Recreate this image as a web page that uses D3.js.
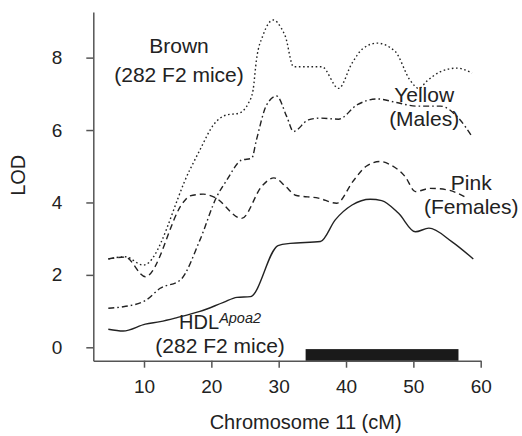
<!DOCTYPE html>
<html>
<head>
<meta charset="utf-8">
<script src="https://cdn.jsdelivr.net/npm/d3@7"></script>
<style>
  body { margin: 0; background: #fff; }
  text { font-family: "Liberation Sans", Arial, sans-serif; fill: #222; }
</style>
</head>
<body>
<div id="chart"></div>
<script>
let width = 522,
  height = 436;

// LOD profiles along chromosome 11, [cM, LOD]
const hdl = [
  [4.7, 0.5], [6.9, 0.45], [10.2, 0.64], [12.4, 0.71], [14.9, 0.82],
  [18.3, 0.99], [21.8, 1.24], [23.8, 1.38], [25.8, 1.4], [29.9, 2.81],
  [31.7, 2.87], [36.2, 2.92], [38.4, 3.52], [40.9, 3.93], [43.6, 4.09],
  [45.3, 4.05], [47.8, 3.7], [50.3, 3.19], [52.3, 3.29], [55.7, 2.92],
  [58.9, 2.44],
];
const brown = [
  [4.7, 2.44], [7.2, 2.5], [9.9, 2.27], [16.8, 4.9], [18.3, 5.45],
  [20.3, 6.14], [22.3, 6.42], [24.0, 6.46], [25.5, 6.74], [26.2, 7.11],
  [26.7, 7.94], [27.7, 8.63], [29.2, 9.04], [30.4, 8.81], [31.0, 8.58],
  [32.2, 7.75], [36.4, 7.75], [38.9, 7.15], [40.9, 7.85], [42.5, 8.25],
  [44.6, 8.4], [47.3, 8.17], [49.5, 7.38], [50.8, 7.15], [52.0, 7.35],
  [54.0, 7.61], [56.5, 7.71], [58.7, 7.57],
];
const yellow = [
  [4.7, 1.08], [6.9, 1.12], [10.2, 1.29], [12.4, 1.63], [15.4, 1.86],
  [18.3, 2.96], [20.8, 4.16], [22.3, 4.62], [24.5, 5.17], [26.0, 5.22],
  [26.7, 5.73], [28.2, 6.69], [29.7, 6.94], [31.2, 6.37], [32.2, 5.96],
  [34.4, 6.28], [36.2, 6.33], [38.9, 6.3], [41.6, 6.69], [44.6, 6.86],
  [47.5, 6.76], [50.5, 6.66], [54.0, 6.66], [56.7, 6.33], [58.7, 5.82],
];
const pink = [
  [4.7, 2.44], [7.2, 2.49], [10.2, 1.95], [15.9, 4.02], [16.8, 4.18],
  [18.8, 4.23], [20.5, 4.14], [24.5, 3.56], [27.5, 4.45], [29.3, 4.68],
  [31.0, 4.45], [32.5, 4.2], [35.9, 4.12], [38.6, 3.98], [41.1, 4.6],
  [43.0, 5.0], [45.1, 5.13], [46.6, 5.04], [48.8, 4.71], [50.3, 4.3],
  [52.5, 4.39], [55.0, 4.35], [58.0, 4.12],
];

// confidence interval bar (cM)
const interval = [34, 56.7];

const xTicks = [10, 20, 30, 40, 50, 60];
const yTicks = [0, 2, 4, 6, 8];

// label anchors [cM, LOD baseline]
const labels = [
  { text: "Brown", at: [15.2, 8.13] },
  { text: "(282 F2 mice)", at: [15.2, 7.34] },
  { text: "Yellow", at: [51.6, 6.78] },
  { text: "(Males)", at: [51.6, 6.12] },
  { text: "Pink", at: [58.6, 4.34] },
  { text: "(Females)", at: [58.6, 3.68] },
  { text: "(282 F2 mice)", at: [21.3, -0.17] },
];

const x = d3.scaleLinear().domain([2.47, 60]).range([93.3, 480.7]);
const y = d3.scaleLinear().domain([-0.37, 9.26]).range([360.7, 12]);

const svg = d3
  .select("#chart")
  .append("svg")
  .attr("width", width)
  .attr("height", height);

// axes
const yAxis = d3.axisLeft(y).tickValues(yTicks).tickSize(7).tickSizeOuter(0).tickPadding(24);
const xAxis = d3.axisBottom(x).tickValues(xTicks).tickSize(7).tickSizeOuter(0).tickPadding(12);

svg
  .append("g")
  .attr("transform", `translate(${x(2.47)},0)`)
  .call(yAxis)
  .call((g) => g.selectAll("line, path").attr("stroke", "#555").attr("stroke-width", 1.5))
  .call((g) => g.selectAll("text").attr("font-size", 19).attr("fill", "#222"));

svg
  .append("g")
  .attr("transform", `translate(0,${y(-0.37)})`)
  .call(xAxis)
  .call((g) => g.selectAll("line, path").attr("stroke", "#555").attr("stroke-width", 1.5))
  .call((g) => g.selectAll("text").attr("font-size", 19).attr("fill", "#222"));

// axis titles
svg
  .append("text")
  .attr("transform", `translate(25,${y(4.75)}) rotate(-90)`)
  .attr("text-anchor", "middle")
  .attr("font-size", 20)
  .text("LOD");

svg
  .append("text")
  .attr("x", x(34))
  .attr("y", 429)
  .attr("text-anchor", "middle")
  .attr("font-size", 20)
  .text("Chromosome 11 (cM)");

// interval bar
svg
  .append("rect")
  .attr("x", x(interval[0]))
  .attr("width", x(interval[1]) - x(interval[0]))
  .attr("y", y(-0.05))
  .attr("height", y(-0.37) - y(-0.05))
  .attr("fill", "#1a1a1a");

const line = d3
  .line()
  .x((d) => x(d[0]))
  .y((d) => y(d[1]))
  .curve(d3.curveMonotoneX);

const series = [
  { data: brown, dash: "1.6,2.6" },
  { data: yellow, dash: "6,3,1.6,3" },
  { data: pink, dash: "6,4" },
  { data: hdl, dash: null },
];

svg
  .selectAll(".lines")
  .data(series)
  .join("path")
  .attr("class", "lines")
  .attr("fill", "none")
  .attr("stroke", "#222")
  .attr("stroke-width", 1.4)
  .attr("stroke-dasharray", (d) => d.dash)
  .attr("d", (d) => line(d.data));

// annotations
svg
  .selectAll(".lab")
  .data(labels)
  .join("text")
  .attr("class", "lab")
  .attr("x", (d) => x(d.at[0]))
  .attr("y", (d) => y(d.at[1]))
  .attr("text-anchor", "middle")
  .attr("font-size", 21)
  .text((d) => d.text);

const hdlLab = svg
  .append("text")
  .attr("x", x(21.3))
  .attr("y", y(0.5))
  .attr("text-anchor", "middle")
  .attr("font-size", 20);
hdlLab.append("tspan").text("HDL");
hdlLab
  .append("tspan")
  .attr("dy", -6)
  .attr("font-size", 14.5)
  .attr("font-style", "italic")
  .text("Apoa2");
</script>
</body>
</html>
